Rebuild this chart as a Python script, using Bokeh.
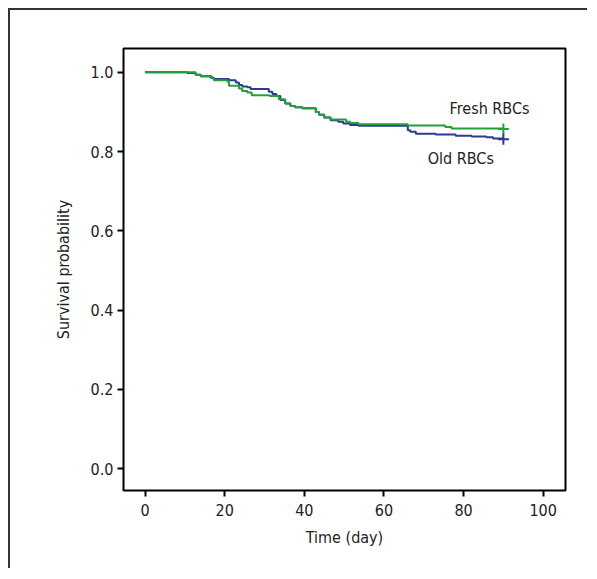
from bokeh.plotting import figure
from bokeh.models import Range1d, FixedTicker, ColumnDataSource
from bokeh.core.properties import value
from bokeh.embed import file_html
from bokeh.resources import INLINE

# Old RBCs Kaplan-Meier curve
old_days = [0, 10.6, 12.7, 14, 16.5, 17.3, 21.1, 22.8, 23.6, 24.4, 25.7, 26.5, 31.1, 32, 33,
            34, 35.2, 36.5, 37.7, 39.5, 42.9, 43.7, 45, 46.6, 48.5, 49.8, 51.5, 53.6, 66,
            66.6, 68, 73, 78, 82, 85.7, 87.4, 90]
old_surv = [1.0, 0.998, 0.994, 0.99, 0.986, 0.983, 0.980, 0.974, 0.968, 0.964, 0.962, 0.958,
            0.951, 0.945, 0.940, 0.930, 0.921, 0.915, 0.912, 0.909, 0.900, 0.893, 0.886,
            0.879, 0.875, 0.871, 0.867, 0.865, 0.854, 0.850, 0.845, 0.843, 0.840, 0.838,
            0.836, 0.833, 0.831]

# Fresh RBCs Kaplan-Meier curve
fresh_days = [0, 12.7, 14, 16.8, 17.3, 20.7, 21.1, 23.6, 24.4, 25.7, 26.8, 31.3, 33.6, 35.2,
              36.5, 37.7, 39.5, 42.9, 43.7, 45, 46.6, 50.5, 51.5, 53.6, 66, 75.4, 77, 90]
fresh_surv = [1.0, 0.994, 0.99, 0.985, 0.980, 0.976, 0.966, 0.959, 0.953, 0.949, 0.942, 0.940,
              0.932, 0.921, 0.915, 0.912, 0.909, 0.900, 0.893, 0.886, 0.881, 0.875, 0.872,
              0.869, 0.866, 0.862, 0.858, 0.857]

x_ticks = [0, 20, 40, 60, 80, 100]
y_ticks = [0.0, 0.2, 0.4, 0.6, 0.8, 1.0]

labels = ["Fresh RBCs", "Old RBCs"]
label_x = [76.5, 71.0]
label_y = [0.909, 0.782]

FONT = "DejaVu Sans Condensed"
GREEN = "#23a03a"
BLUE = "#2b3b8e"

p = figure(width=579, height=560, output_backend="svg", toolbar_location=None,
           x_range=Range1d(-5.4, 105.6), y_range=Range1d(-0.055, 1.06),
           min_border_left=113, min_border_right=24, min_border_top=38, min_border_bottom=80)
p.styles = {"border-left": "2px solid #333", "border-top": "2px solid #333",
            "margin-left": "8px", "margin-top": "8px"}

p.xgrid.visible = False
p.ygrid.visible = False
p.outline_line_color = "black"
p.outline_line_width = 2
p.outline_line_alpha = 1

for ax in (p.xaxis[0], p.yaxis[0]):
    ax.axis_line_color = None
    ax.major_tick_line_color = "black"
    ax.major_tick_line_width = 2
    ax.major_tick_in = 0
    ax.major_tick_out = 6
    ax.minor_tick_line_color = None
    ax.major_label_text_font = FONT
    ax.major_label_text_font_size = "16px"
    ax.major_label_text_color = "#222"
    ax.axis_label_text_font = FONT
    ax.axis_label_text_font_size = "16px"
    ax.axis_label_text_font_style = "normal"
    ax.axis_label_text_color = "#222"

p.xaxis[0].ticker = FixedTicker(ticks=x_ticks)
p.yaxis[0].ticker = FixedTicker(ticks=y_ticks)
p.yaxis[0].major_label_overrides = {t: f"{t:.1f}" for t in y_ticks}
p.xaxis.axis_label = "Time (day)"
p.yaxis.axis_label = "Survival probability"
p.xaxis.major_label_standoff = 7
p.yaxis.major_label_standoff = 4
p.xaxis.axis_label_standoff = 9
p.yaxis.axis_label_standoff = 15

p.step(old_days, old_surv, mode="after", line_color=BLUE, line_width=2)
p.step(fresh_days, fresh_surv, mode="after", line_color=GREEN, line_width=2)

p.scatter([fresh_days[-1]], [fresh_surv[-1]], marker="cross", size=11,
          line_color=GREEN, line_width=2)
p.scatter([old_days[-1]], [old_surv[-1]], marker="cross", size=11,
          line_color=BLUE, line_width=2)

src = ColumnDataSource(dict(x=label_x, y=label_y, t=labels))
p.text(x="x", y="y", text="t", source=src, text_font=value(FONT),
       text_font_size="16px", text_color="#222", text_baseline="middle", text_align="left")

open("out.html", "w").write(file_html(p, INLINE))
